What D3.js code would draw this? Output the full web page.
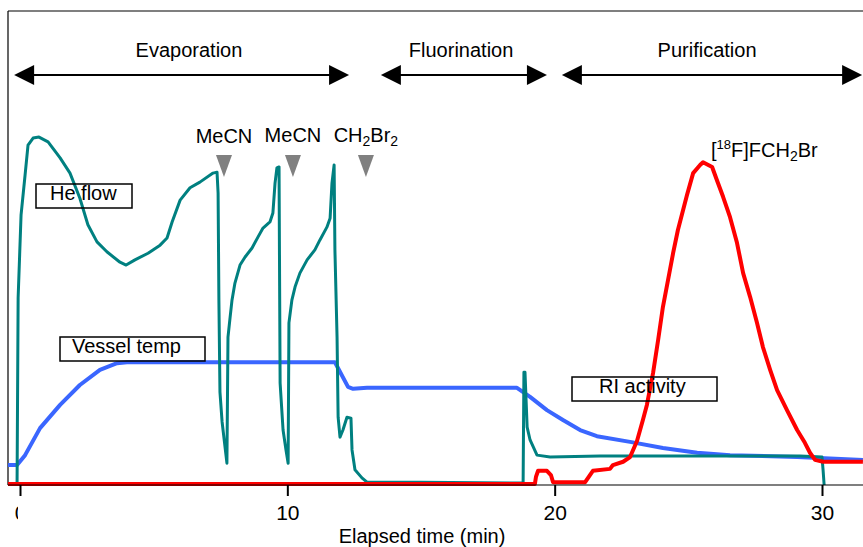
<!DOCTYPE html>
<html>
<head>
<meta charset="utf-8">
<script src="https://cdn.jsdelivr.net/npm/d3@7"></script>
<style>
body { margin: 0; background: #fff; }
text { font-family: "Liberation Sans", Arial, sans-serif; fill: #000; }
</style>
</head>
<body>
<script>
// elapsed time (min), signal in % of plot height
var heFlow = [[-0.11,0],[-0.07,39.5],[0.04,57],[0.19,65.4],[0.30,71.7],[0.49,73.2],[0.71,73.4],[1.05,72.4],
  [1.50,69],[1.87,65.8],[2.24,60.5],[2.54,54.9],[2.88,51.3],[3.25,49.2],[3.74,47],[3.97,46.4],[4.30,47.5],
  [4.79,48.9],[5.24,50.6],[5.50,52.1],[5.69,55.5],[5.99,60.1],[6.36,62.7],[6.73,63.9],[7.22,65.8],[7.37,66],
  [7.41,61.6],[7.44,39],[7.48,19.6],[7.56,13.3],[7.74,4.6],[7.78,31.2],[7.86,35.4],[7.93,39],[8.04,42.6],
  [8.23,46.4],[8.42,48.1],[8.68,50],[8.90,52.3],[9.09,54.2],[9.35,55.5],[9.46,57.4],[9.54,63.7],[9.61,66.9],
  [9.69,67.1],[9.71,43.9],[9.73,21.5],[9.84,11.6],[9.95,7.4],[10.03,4.6],[10.06,34.2],[10.17,39],[10.29,41.8],
  [10.47,44.7],[10.74,47.5],[11.03,49.6],[11.22,51.7],[11.48,54.4],[11.60,56.3],[11.67,63.7],[11.75,67.5],
  [11.78,49.6],[11.86,31.2],[11.90,14.3],[11.97,10.1],[12.08,11.6],[12.23,14.3],[12.38,14.1],[12.42,7.4],
  [12.53,3.2],[12.79,1.5],[12.98,0.6],[15.0,0.6],[18.82,0.4],[18.85,23.8],[18.89,23.8],[18.97,12.2],
  [19.08,9.5],[19.34,6.3],[19.83,5.9],[21.70,6.1],[25.44,6.1],[29.18,6.1],[30.00,5.9],[30.04,3.2],[30.08,0]];

var vesselTemp = [[-0.45,4.2],[-0.11,4.2],[0.19,6.3],[0.75,12],[1.50,16.9],[2.24,21.1],[2.99,24.3],[3.63,25.7],
  [4.00,25.9],[11.78,25.9],[12.27,20.7],[12.46,20.3],[12.98,20.5],[18.59,20.5],[19.08,18.6],[19.71,15.8],
  [20.31,13.7],[20.95,11.6],[21.58,10.3],[22.82,9.1],[24.05,7.8],[25.33,6.8],[26.56,6.3],[29.07,5.9],[31.53,5.3]];

var riActivity = [[-0.45,0.2],[19.26,0.2],[19.30,1.7],[19.38,3],[19.71,3],[19.86,2.1],[19.94,0.6],[21.14,0.6],
  [21.32,2.1],[21.43,3],[22.07,3.4],[22.18,4.2],[22.56,4.9],[22.82,5.9],[23.08,9.3],[23.30,13.7],[23.45,16.9],
  [23.68,23.6],[23.87,30.6],[24.05,37.6],[24.24,43.2],[24.43,48.9],[24.61,53.8],[24.95,61.2],[25.18,65.8],
  [25.44,67.5],[25.55,68.1],[25.89,67.1],[26.07,64.3],[26.30,60.8],[26.56,56.5],[26.82,51.1],[27.05,44.7],
  [27.31,39.7],[27.57,34.2],[27.79,29.1],[28.06,24.3],[28.32,20],[28.69,15.8],[29.07,11.6],[29.36,8.9],
  [29.55,6.8],[29.74,5.3],[30.04,4.9],[31.53,4.9]];

var phases = [
  {name: "Evaporation", start: -0.22, end: 12.31, label: 6.32},
  {name: "Fluorination", start: 13.50, end: 19.71, label: 16.50},
  {name: "Purification", start: 20.27, end: 31.50, label: 25.70}
];

var additions = [
  {t: 7.63, label: "MeCN"},
  {t: 10.21, label: "MeCN"},
  {t: 12.94, label: "CH2Br2"}
];

var xTicks = [0, 10, 20, 30];

var W = 863, H = 547;
var svg = d3.select('body').append('svg')
    .attr('width', W)
    .attr('height', H);

var x = d3.scaleLinear().domain([0, 30]).range([20, 822]);
var y = d3.scaleLinear().domain([0, 100]).range([485, 11]);

// frame: top and left, bottom axis line
svg.append('line').attr('x1', 8).attr('x2', W).attr('y1', 11).attr('y2', 11)
    .attr('stroke', '#000').attr('stroke-width', 1.2);
svg.append('line').attr('x1', 8).attr('x2', 8).attr('y1', 11).attr('y2', 485)
    .attr('stroke', '#000').attr('stroke-width', 1.2);

var line = d3.line()
    .x(function(d){ return x(d[0]); })
    .y(function(d){ return y(d[1]); });

svg.append('path').datum(vesselTemp)
    .attr('d', line)
    .attr('fill', 'none')
    .attr('stroke', '#3a66ff')
    .attr('stroke-width', 4)
    .attr('stroke-linejoin', 'round');

svg.append('path').datum(heFlow)
    .attr('d', line)
    .attr('fill', 'none')
    .attr('stroke', '#008080')
    .attr('stroke-width', 3)
    .attr('stroke-linejoin', 'round');

svg.append('path').datum(riActivity)
    .attr('d', line)
    .attr('fill', 'none')
    .attr('stroke', '#ff0000')
    .attr('stroke-width', 4)
    .attr('stroke-linejoin', 'round');

// x axis
svg.append('line').attr('x1', 8).attr('x2', W).attr('y1', 485).attr('y2', 485)
    .attr('stroke', '#000').attr('stroke-width', 1.2);

svg.append('clipPath').attr('id', 'clip0')
  .append('rect').attr('x', -10).attr('y', -5).attr('width', 7.5).attr('height', 60);

var ax = svg.append('g')
    .attr('transform', 'translate(0,485)')
    .call(d3.axisBottom(x).tickValues(xTicks).tickSize(11).tickPadding(9).tickFormat(d3.format('d')));
ax.select('.domain').remove();
ax.selectAll('.tick line').attr('stroke', '#000').attr('stroke-width', 2);
ax.selectAll('.tick text')
    .style('font-family', '"Liberation Sans", Arial, sans-serif')
    .style('font-size', '21px')
    .attr('fill', '#000');
ax.selectAll('.tick').filter(function(d){ return d === 0; })
    .select('text').attr('clip-path', 'url(#clip0)');

svg.append('text')
    .attr('x', 422).attr('y', 543)
    .attr('text-anchor', 'middle')
    .style('font-size', '20px')
    .text('Elapsed time (min)');

// phase arrows
var ay = 75, head = 20, half = 10;
phases.forEach(function(p){
  var a = x(p.start), b = x(p.end);
  svg.append('line').attr('x1', a + head - 2).attr('x2', b - head + 2)
      .attr('y1', ay).attr('y2', ay)
      .attr('stroke', '#000').attr('stroke-width', 2);
  svg.append('path')
      .attr('d', 'M' + a + ',' + ay + 'L' + (a + head) + ',' + (ay - half) + 'L' + (a + head) + ',' + (ay + half) + 'Z')
      .attr('fill', '#000');
  svg.append('path')
      .attr('d', 'M' + b + ',' + ay + 'L' + (b - head) + ',' + (ay - half) + 'L' + (b - head) + ',' + (ay + half) + 'Z')
      .attr('fill', '#000');
  svg.append('text')
      .attr('x', x(p.label)).attr('y', 57)
      .attr('text-anchor', 'middle')
      .style('font-size', '20px')
      .text(p.name);
});

// reagent additions
additions.forEach(function(a, i){
  var cx = x(a.t);
  svg.append('path')
      .attr('d', 'M' + (cx - 8) + ',155L' + (cx + 8) + ',155L' + cx + ',177Z')
      .attr('fill', '#808080');
  var t = svg.append('text')
      .attr('x', cx).attr('y', i === 0 ? 143 : 142)
      .attr('text-anchor', 'middle')
      .style('font-size', '20px');
  if (a.label === 'CH2Br2') {
    t.append('tspan').text('CH');
    t.append('tspan').attr('dy', 4).style('font-size', '14px').text('2');
    t.append('tspan').attr('dy', -4).text('Br');
    t.append('tspan').attr('dy', 4).style('font-size', '14px').text('2');
  } else {
    t.text(a.label);
  }
});

// product label
var pl = svg.append('text').attr('x', 711).attr('y', 157).style('font-size', '20px');
pl.append('tspan').text('[');
pl.append('tspan').attr('dy', -8).style('font-size', '13px').text('18');
pl.append('tspan').attr('dy', 8).text('F]FCH');
pl.append('tspan').attr('dy', 4).style('font-size', '14px').text('2');
pl.append('tspan').attr('dy', -4).text('Br');

// trace labels
var boxes = [
  {label: 'He flow', x0: 36, y0: 184, w: 96, tx: 50},
  {label: 'Vessel temp', x0: 60, y0: 337, w: 145, tx: 72},
  {label: 'RI activity', x0: 572, y0: 377, w: 145, tx: 599}
];
boxes.forEach(function(b){
  svg.append('rect')
      .attr('x', b.x0).attr('y', b.y0).attr('width', b.w).attr('height', 24)
      .attr('fill', 'none').attr('stroke', '#000').attr('stroke-width', 1.5);
  svg.append('text')
      .attr('x', b.tx).attr('y', b.y0 + 16)
      .style('font-size', '20px')
      .text(b.label);
});
</script>
</body>
</html>
